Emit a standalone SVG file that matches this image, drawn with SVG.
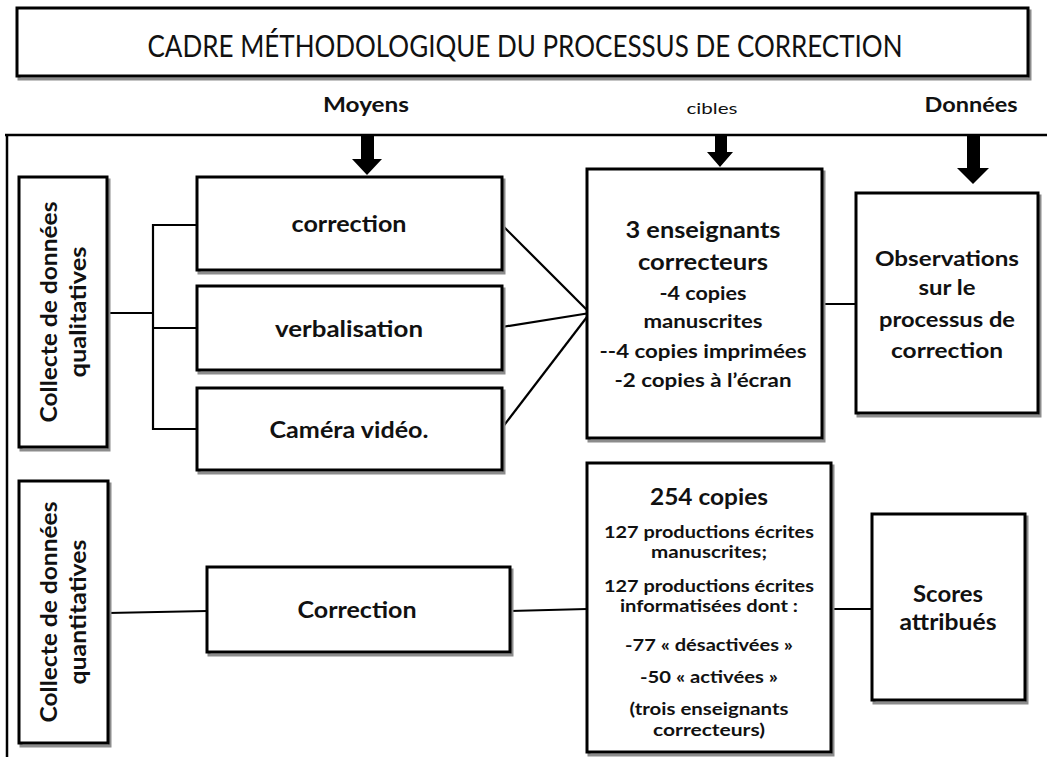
<svg xmlns="http://www.w3.org/2000/svg" width="1047" height="757" viewBox="0 0 1047 757">
  <style>
    .box { fill: #ffffff; stroke: #000000; stroke-width: 3; }
    .shadow { fill: none; stroke: #8c8c8c; stroke-width: 3; }
    .frame { fill: none; stroke: #000000; stroke-width: 2.5; }
    .link { fill: none; stroke: #000000; stroke-width: 2.2; }
    .arrow { fill: #000000; stroke: none; }
    text { font-family: Lato, "Open Sans", "Liberation Sans", sans-serif; fill: #111111; text-anchor: middle; }
    .title { font-size: 30px; font-weight: normal; }
    .head { font-size: 21px; font-weight: bold; }
    .small { font-size: 16px; font-weight: normal; }
    .lbl { font-size: 22px; font-weight: bold; }
    .sub { font-size: 18px; font-weight: bold; }
    .tiny { font-size: 17px; font-weight: bold; }
  </style>

  <rect x="0" y="0" width="1047" height="757" fill="#ffffff"/>

  <!-- title -->
  <g id="title">
    <rect class="shadow" x="19" y="11" width="1011" height="68"/>
    <rect class="box" x="17" y="8" width="1011" height="68"/>
    <text class="title" x="525" y="57" textLength="755" lengthAdjust="spacingAndGlyphs">CADRE MÉTHODOLOGIQUE DU PROCESSUS DE CORRECTION</text>
  </g>

  <!-- column headings -->
  <g id="headings">
    <text class="head" x="366" y="112" textLength="86" lengthAdjust="spacingAndGlyphs">Moyens</text>
    <text class="small" x="712" y="114" textLength="51" lengthAdjust="spacingAndGlyphs">cibles</text>
    <text class="head" x="971" y="112" textLength="93" lengthAdjust="spacingAndGlyphs">Données</text>
  </g>

  <!-- outer frame -->
  <g id="frame">
    <line class="frame" x1="5" y1="135" x2="1047" y2="135"/>
    <line class="frame" x1="7" y1="135" x2="7" y2="757"/>
  </g>

  <!-- heading arrows -->
  <g id="arrows">
    <polygon class="arrow" points="361,134 374,134 374,159 382,159 367,175 352,159 361,159"/>
    <polygon class="arrow" points="715,134 727,134 727,152 733,152 720,167 707,152 715,152"/>
    <polygon class="arrow" points="967,135 980,135 980,168 989,168 973,184 957,168 967,168"/>
  </g>

  <!-- connectors -->
  <g id="connectors">
    <polyline class="link" points="107,313 153,313"/>
    <line class="link" x1="153" y1="224" x2="153" y2="430"/>
    <line class="link" x1="153" y1="225" x2="197" y2="225"/>
    <line class="link" x1="153" y1="328" x2="197" y2="328"/>
    <line class="link" x1="153" y1="429" x2="197" y2="429"/>
    <line class="link" x1="502" y1="225" x2="590" y2="313"/>
    <line class="link" x1="502" y1="327" x2="590" y2="313"/>
    <line class="link" x1="502" y1="428" x2="590" y2="313"/>
    <circle cx="589" cy="313" r="2.5" fill="#000000"/>
    <line class="link" x1="822" y1="304" x2="856" y2="304"/>
    <line class="link" x1="108" y1="613" x2="207" y2="611"/>
    <line class="link" x1="510" y1="611" x2="587" y2="609"/>
    <line class="link" x1="831" y1="609" x2="872" y2="609"/>
  </g>

  <!-- qualitative branch -->
  <g id="qualitatives">
    <rect class="shadow" x="21" y="180" width="88" height="270"/>
    <rect class="box" x="19" y="177" width="88" height="270"/>
    <text class="lbl" transform="translate(57,312) rotate(-90)" textLength="221" lengthAdjust="spacingAndGlyphs">Collecte de données</text>
    <text class="lbl" transform="translate(86,312) rotate(-90)" textLength="131" lengthAdjust="spacingAndGlyphs">qualitatives</text>
  </g>

  <g id="correction">
    <rect class="shadow" x="199" y="180" width="305" height="93"/>
    <rect class="box" x="197" y="177" width="305" height="93"/>
    <text class="lbl" x="349" y="232" textLength="115" lengthAdjust="spacingAndGlyphs">correction</text>
  </g>

  <g id="verbalisation">
    <rect class="shadow" x="199" y="289" width="305" height="84"/>
    <rect class="box" x="197" y="286" width="305" height="84"/>
    <text class="lbl" x="349" y="337" textLength="148" lengthAdjust="spacingAndGlyphs">verbalisation</text>
  </g>

  <g id="camera">
    <rect class="shadow" x="199" y="391" width="305" height="82"/>
    <rect class="box" x="197" y="388" width="305" height="82"/>
    <text class="lbl" x="349" y="438" textLength="159" lengthAdjust="spacingAndGlyphs">Caméra vidéo.</text>
  </g>

  <g id="enseignants">
    <rect class="shadow" x="589" y="172" width="235" height="269"/>
    <rect class="box" x="587" y="169" width="235" height="269"/>
    <text class="lbl" x="703" y="238" textLength="155" lengthAdjust="spacingAndGlyphs">3 enseignants</text>
    <text class="lbl" x="703" y="270" textLength="130" lengthAdjust="spacingAndGlyphs">correcteurs</text>
    <text class="sub" x="703" y="300" textLength="87" lengthAdjust="spacingAndGlyphs">-4 copies</text>
    <text class="sub" x="703" y="328" textLength="119" lengthAdjust="spacingAndGlyphs">manuscrites</text>
    <text class="sub" x="703" y="358" textLength="207" lengthAdjust="spacingAndGlyphs">--4 copies imprimées</text>
    <text class="sub" x="703" y="387" textLength="177" lengthAdjust="spacingAndGlyphs">-2 copies à l’écran</text>
  </g>

  <g id="observations">
    <rect class="shadow" x="858" y="196" width="182" height="220"/>
    <rect class="box" x="856" y="193" width="182" height="220"/>
    <text class="head" x="947" y="266" textLength="144" lengthAdjust="spacingAndGlyphs">Observations</text>
    <text class="head" x="947" y="295" textLength="57" lengthAdjust="spacingAndGlyphs">sur le</text>
    <text class="head" x="947" y="327" textLength="136" lengthAdjust="spacingAndGlyphs">processus de</text>
    <text class="head" x="947" y="358" textLength="112" lengthAdjust="spacingAndGlyphs">correction</text>
  </g>

  <!-- quantitative branch -->
  <g id="quantitatives">
    <rect class="shadow" x="21" y="484" width="89" height="262"/>
    <rect class="box" x="19" y="481" width="89" height="262"/>
    <text class="lbl" transform="translate(57,612) rotate(-90)" textLength="221" lengthAdjust="spacingAndGlyphs">Collecte de données</text>
    <text class="lbl" transform="translate(86,612) rotate(-90)" textLength="145" lengthAdjust="spacingAndGlyphs">quantitatives</text>
  </g>

  <g id="correction-scores">
    <rect class="shadow" x="209" y="570" width="303" height="85"/>
    <rect class="box" x="207" y="567" width="303" height="85"/>
    <text class="lbl" x="357" y="618" textLength="119" lengthAdjust="spacingAndGlyphs">Correction</text>
  </g>

  <g id="copies">
    <rect class="shadow" x="589" y="466" width="244" height="289"/>
    <rect class="box" x="587" y="463" width="244" height="289"/>
    <text class="lbl" x="709" y="505" textLength="118" lengthAdjust="spacingAndGlyphs">254 copies</text>
    <text class="tiny" x="709" y="538" textLength="210" lengthAdjust="spacingAndGlyphs">127 productions écrites</text>
    <text class="tiny" x="709" y="558" textLength="116" lengthAdjust="spacingAndGlyphs">manuscrites;</text>
    <text class="tiny" x="709" y="592" textLength="210" lengthAdjust="spacingAndGlyphs">127 productions écrites</text>
    <text class="tiny" x="709" y="612" textLength="178" lengthAdjust="spacingAndGlyphs">informatisées dont :</text>
    <text class="tiny" x="709" y="651" textLength="168" lengthAdjust="spacingAndGlyphs">-77 « désactivées »</text>
    <text class="tiny" x="709" y="683" textLength="138" lengthAdjust="spacingAndGlyphs">-50 « activées »</text>
    <text class="tiny" x="709" y="715" textLength="159" lengthAdjust="spacingAndGlyphs">(trois enseignants</text>
    <text class="tiny" x="709" y="736" textLength="112" lengthAdjust="spacingAndGlyphs">correcteurs)</text>
  </g>

  <g id="scores">
    <rect class="shadow" x="874" y="517" width="153" height="186"/>
    <rect class="box" x="872" y="514" width="153" height="186"/>
    <text class="lbl" x="948" y="602" textLength="70" lengthAdjust="spacingAndGlyphs">Scores</text>
    <text class="lbl" x="948" y="630" textLength="97" lengthAdjust="spacingAndGlyphs">attribués</text>
  </g>
</svg>
